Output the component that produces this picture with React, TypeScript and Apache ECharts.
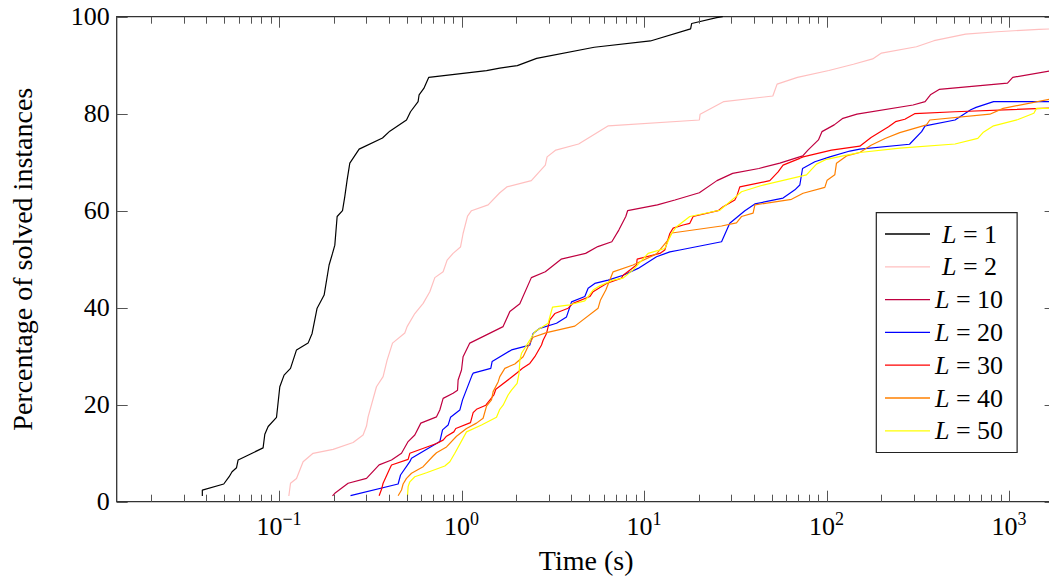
import React, { useEffect, useRef } from "react";
import * as echarts from "echarts";

const FONT = "Liberation Serif";

const seriesNames = ["L=1", "L=2", "L=10", "L=20", "L=30", "L=40", "L=50"];
const seriesColors = ["#000000", "#ffbfbf", "#bf0040", "#0000ff", "#ff0000", "#ff8000", "#ffff00"];

const l1Time = [0.038, 0.038, 0.0498, 0.0533, 0.0553, 0.0585, 0.0597, 0.0818, 0.0836, 0.0872, 0.0969, 0.101, 0.1066, 0.1156, 0.1247, 0.1443, 0.1518, 0.1617, 0.1767, 0.1881, 0.1964, 0.2022, 0.2082, 0.2228, 0.2293, 0.2361, 0.2443, 0.2748, 0.369, 0.4046, 0.4995, 0.5254, 0.5782, 0.5856, 0.6215, 0.6617, 1.371, 1.62, 2.022, 2.58, 5.34, 10.84, 18.0, 18.25, 25.0, 27];
const l1Pct = [1.2, 2.4, 3.65, 5.15, 6.19, 7.01, 8.6, 11.1, 13.9, 15.5, 17.4, 23.7, 26.1, 27.5, 31.3, 32.7, 34.7, 39.9, 42.6, 48.8, 51.2, 52.9, 58.8, 60.0, 62.9, 66.3, 69.8, 72.7, 75.0, 76.4, 78.7, 80.4, 82.5, 83.9, 85.2, 87.5, 88.9, 89.4, 89.9, 91.4, 93.7, 95.0, 97.5, 98.6, 99.8, 100];

const l2Time = [0.1132, 0.1156, 0.1247, 0.1355, 0.1537, 0.1979, 0.2547, 0.2889, 0.3016, 0.3077, 0.342, 0.3718, 0.3911, 0.4187, 0.489, 0.5034, 0.5547, 0.6163, 0.6703, 0.7142, 0.7929, 0.834, 0.899, 0.987, 1.02, 1.079, 1.134, 1.399, 1.621, 1.771, 2.413, 2.879, 2.944, 3.287, 4.382, 6.375, 20.1, 20.3, 27.4, 50.8, 53.6, 69.3, 103, 140.4, 179, 200, 311, 388, 578, 859, 1459, 1800];
const l2Pct = [1.18, 3.8, 4.8, 8.25, 9.98, 10.8, 12.2, 13.75, 15.6, 17.5, 23.7, 25.8, 29.2, 32.7, 34.8, 36.1, 38.8, 40.9, 43.3, 46.2, 47.4, 49.8, 51.2, 52.5, 55.3, 58.9, 60.0, 61.2, 63.7, 64.9, 66.2, 69.4, 71.1, 72.5, 73.75, 77.5, 78.7, 79.9, 82.5, 83.65, 86.1, 87.5, 88.9, 90.2, 91.3, 92.5, 93.8, 95.05, 96.4, 96.9, 97.4, 97.5];

const l10Time = [0.1964, 0.2022, 0.2391, 0.3016, 0.3536, 0.4135, 0.469, 0.5098, 0.5547, 0.5984, 0.7295, 0.7605, 0.7929, 0.899, 0.951, 0.958, 1.0, 1.02, 1.11, 1.69, 1.84, 2.087, 2.413, 2.879, 3.514, 4.786, 5.582, 6.662, 7.277, 7.946, 8.13, 11.84, 14.77, 20.1, 25.1, 30.6, 42.6, 55.5, 74.1, 79.1, 90.3, 94.4, 110.2, 123, 146.8, 298, 347, 371, 414, 981, 1048, 1800];
const l10Pct = [1.18, 1.73, 3.8, 4.8, 7.6, 8.6, 10.0, 12.4, 13.75, 16.2, 17.5, 18.9, 21.3, 22.35, 23.0, 25.1, 27.15, 29.9, 32.7, 36.1, 39.2, 40.8, 46.2, 47.4, 50.0, 51.2, 52.6, 53.6, 56.0, 58.8, 60.0, 61.2, 62.2, 63.7, 66.2, 67.7, 68.7, 69.8, 71.3, 72.5, 74.6, 76.3, 77.7, 79.05, 79.9, 81.8, 82.5, 83.9, 85.0, 86.3, 87.5, 89.0];

const l20Time = [0.2465, 0.4495, 0.4633, 0.5209, 0.532, 0.7605, 0.787, 0.8444, 0.8704, 0.9788, 1.013, 1.143, 1.158, 1.447, 1.471, 1.879, 2.367, 2.468, 2.686, 3.316, 3.761, 4.007, 4.739, 4.94, 5.375, 6.358, 7.683, 9.284, 11.71, 13.85, 15.71, 26.6, 29.5, 35.7, 40.5, 57.8, 67.1, 71.4, 73.9, 86.3, 104.3, 134.2, 152.2, 285, 332, 347, 506, 617, 660, 823, 1800];
const l20Pct = [1.24, 3.65, 5.5, 8.25, 8.95, 12.4, 14.8, 15.8, 17.4, 18.9, 21.0, 26.1, 26.5, 27.5, 28.9, 31.3, 32.3, 34.7, 35.75, 36.8, 38.1, 41.2, 42.3, 44.0, 45.0, 45.7, 46.7, 48.1, 50.5, 51.5, 51.9, 53.6, 57.4, 60.0, 61.4, 62.6, 64.3, 65.3, 68.7, 70.1, 71.1, 72.3, 72.7, 73.7, 76.3, 77.5, 78.7, 80.8, 81.3, 82.5, 82.5];

const l30Time = [0.3536, 0.3645, 0.3718, 0.4012, 0.4135, 0.5098, 0.5209, 0.7295, 0.7929, 0.8276, 0.9075, 0.9306, 1.12, 1.158, 1.208, 1.359, 1.503, 1.542, 1.84, 2.002, 2.159, 2.367, 2.521, 2.744, 2.8, 2.923, 3.047, 3.246, 3.838, 4.088, 5.047, 5.262, 6.232, 7.53, 7.683, 9.097, 9.167, 12.21, 13.0, 13.85, 14.44, 16.38, 17.82, 18.58, 25.47, 27.13, 31.45, 32.37, 33.49, 48.9, 54.3, 57.8, 71.4, 74.4, 106.5, 152.2, 175.4, 218.7, 238.8, 268.6, 304, 506, 1800];
const l30Pct = [1.24, 2.56, 3.8, 6.54, 7.57, 8.74, 9.98, 12.0, 12.7, 13.5, 14.4, 15.1, 16.3, 18.35, 19.05, 19.9, 22.0, 23.2, 25.4, 26.5, 27.5, 28.5, 29.9, 32.3, 33.3, 34.7, 37.5, 38.8, 39.9, 40.9, 42.3, 43.3, 45.0, 46.1, 46.7, 48.8, 50.0, 51.2, 51.9, 55.3, 56.4, 57.05, 57.4, 58.8, 60.0, 60.8, 62.2, 63.2, 64.9, 66.2, 68.0, 69.4, 70.8, 71.1, 72.5, 73.3, 75.1, 77.3, 78.35, 78.85, 80.0, 80.4, 81.2];

const l40Time = [0.4495, 0.469, 0.4786, 0.4995, 0.532, 0.6163, 0.6988, 0.7295, 0.8276, 0.9389, 1.065, 1.208, 1.313, 1.371, 1.46, 1.49, 1.587, 1.621, 1.727, 1.96, 2.176, 2.308, 2.468, 2.923, 4.177, 5.604, 5.776, 6.175, 6.77, 8.713, 11.71, 13.55, 14.21, 26.6, 32.1, 34.2, 39.6, 40.5, 64.3, 74.4, 97.9, 100.8, 111, 113.4, 128.7, 152.2, 175.4, 209.2, 252, 353, 368, 785, 929, 1800];
const l40Pct = [1.24, 2.41, 3.65, 4.82, 5.86, 7.22, 9.42, 10.1, 11.3, 13.5, 15.1, 16.2, 17.2, 19.7, 21.0, 22.7, 24.7, 25.8, 27.5, 28.4, 29.9, 31.9, 33.9, 34.85, 36.2, 39.9, 41.6, 43.65, 47.4, 48.8, 51.1, 54.0, 55.4, 56.85, 57.5, 58.8, 59.5, 61.2, 62.35, 63.6, 64.8, 66.3, 67.4, 69.8, 71.3, 72.0, 73.5, 74.9, 76.1, 77.7, 78.7, 79.9, 81.1, 83.2];

const l50Time = [0.506, 0.5098, 0.5209, 0.5547, 0.6429, 0.81, 0.863, 0.919, 1.065, 1.287, 1.555, 1.621, 1.69, 1.8, 1.879, 2.017, 2.068, 2.087, 2.132, 2.367, 2.521, 2.983, 3.152, 3.921, 4.739, 5.262, 5.725, 6.77, 7.683, 8.713, 10.53, 13.0, 14.15, 15.07, 17.82, 26.0, 32.1, 34.2, 43.1, 77.7, 88.1, 100, 123.3, 152.2, 252, 506, 674.5, 720, 823, 1120, 1368, 1415, 1800];
const l50Pct = [1.24, 3.1, 4.1, 5.15, 5.98, 7.36, 8.25, 9.98, 14.4, 15.8, 17.4, 19.05, 19.9, 22.0, 23.0, 24.4, 26.5, 29.2, 30.6, 33.3, 35.05, 36.8, 40.1, 40.6, 41.4, 43.65, 44.5, 45.7, 46.1, 47.8, 51.2, 52.2, 55.3, 56.7, 58.8, 60.1, 63.0, 63.9, 65.1, 67.4, 69.6, 70.6, 71.3, 72.0, 72.9, 73.75, 74.9, 76.1, 77.5, 78.8, 80.1, 81.1, 81.1];

const seriesTimes = [l1Time, l2Time, l10Time, l20Time, l30Time, l40Time, l50Time];
const seriesPcts = [l1Pct, l2Pct, l10Pct, l20Pct, l30Pct, l40Pct, l50Pct];

const xMin = 0.0129;
const xMax = 1800;
const majorXTicks = [0.1, 1, 10, 100, 1000];
const majorXExponents = ["\u22121", "0", "1", "2", "3"];
const minorXTicks = [
  0.02, 0.03, 0.04, 0.05, 0.06, 0.07, 0.08, 0.09,
  0.2, 0.3, 0.4, 0.5, 0.6, 0.7, 0.8, 0.9,
  2, 3, 4, 5, 6, 7, 8, 9,
  20, 30, 40, 50, 60, 70, 80, 90,
  200, 300, 400, 500, 600, 700, 800, 900,
];
const yTicks = [0, 20, 40, 60, 80, 100];

const TICK_COLOR = "#555";

export default function App() {
  const ref = useRef<HTMLDivElement>(null);

  useEffect(() => {
    if (!ref.current) return;
    const chart = echarts.init(ref.current, undefined, { renderer: "svg" });

    const lineSeries = seriesNames.map((name, i) => ({
      name,
      type: "line",
      data: seriesTimes[i].map((t, j) => [t, seriesPcts[i][j]]),
      symbol: "none",
      showSymbol: false,
      smooth: false,
      color: seriesColors[i],
      lineStyle: { color: seriesColors[i], width: 1.2 },
      itemStyle: { color: seriesColors[i] },
      z: 3,
      silent: true,
    }));

    const xTickData = [
      ...majorXTicks.map((v) => [v, 1]),
      ...minorXTicks.map((v) => [v, 0]),
    ];

    const option: any = {
      animation: false,
      backgroundColor: "#ffffff",
      textStyle: { fontFamily: FONT },
      grid: {
        left: 116.7,
        top: 16.7,
        height: 485,
        width: 938.9,
        show: true,
        borderColor: "#333",
        borderWidth: 1.3,
        backgroundColor: "transparent",
      },
      xAxis: {
        type: "log",
        logBase: 10,
        min: xMin,
        max: xMax,
        splitNumber: 5,
        name: "Time (s)",
        nameLocation: "middle",
        nameGap: 45,
        nameTextStyle: { fontFamily: FONT, fontSize: 28, color: "#000" },
        axisLine: { show: false },
        axisTick: { show: false },
        splitLine: { show: false },
        minorTick: { show: false },
        axisLabel: {
          showMinLabel: false,
          showMaxLabel: false,
          margin: 8,
          color: "#000",
          fontFamily: FONT,
          formatter: (v: number) => {
            const lg = Math.log10(v);
            const e = Math.round(lg);
            if (Math.abs(lg - e) > 1e-6) return "";
            const idx = majorXTicks.findIndex((m) => Math.abs(Math.log10(m) - e) < 1e-6);
            if (idx < 0) return "";
            return `{b|10}{s|${majorXExponents[idx]}}`;
          },
          rich: {
            b: { fontFamily: FONT, fontSize: 26, lineHeight: 30, verticalAlign: "bottom", color: "#000" },
            s: { fontFamily: FONT, fontSize: 18, lineHeight: 20, verticalAlign: "top", color: "#000" },
          },
        },
      },
      yAxis: {
        type: "value",
        min: 0,
        max: 100,
        interval: 20,
        name: "Percentage of solved instances",
        nameLocation: "middle",
        nameGap: 80,
        nameRotate: 90,
        nameTextStyle: { fontFamily: FONT, fontSize: 28, color: "#000" },
        axisLine: { show: false },
        axisTick: { show: false },
        splitLine: { show: false },
        axisLabel: {
          margin: 7,
          fontFamily: FONT,
          fontSize: 26,
          color: "#000",
        },
      },
      legend: {
        data: seriesNames,
        orient: "vertical",
        left: 876.3,
        top: 212.7,
        icon: "rect",
        itemWidth: 45,
        itemHeight: 1.3,
        itemGap: 6.8,
        padding: [8.3, 14, 8.7, 8.7],
        borderColor: "#222",
        borderWidth: 1.2,
        backgroundColor: "#ffffff",
        selectedMode: false,
        textStyle: {
          fontFamily: FONT,
          fontSize: 26,
          color: "#000",
          lineHeight: 26,
          rich: {
            i: { fontFamily: FONT, fontSize: 26, fontStyle: "italic", color: "#000", lineHeight: 26 },
            n: { fontFamily: FONT, fontSize: 26, color: "#000", lineHeight: 26 },
            p: { fontFamily: FONT, fontSize: 26, width: 7, lineHeight: 26 },
          },
        },
        formatter: (name: string) => {
          const n = name.split("=")[1];
          const pad = n.length === 1 ? "{p| }" : "";
          return `${pad}{i|L}{n| = ${n}}`;
        },
        z: 10,
      },
      series: [
        ...lineSeries,
        {
          type: "custom",
          name: "xticks",
          silent: true,
          clip: false,
          z: 5,
          data: xTickData,
          renderItem: (params: any, api: any) => {
            const v = api.value(0);
            const major = api.value(1) === 1;
            const p = api.coord([v, 0]);
            const cs = params.coordSys;
            const top = cs.y;
            const bottom = cs.y + cs.height;
            const len = major ? 11 : 7;
            const x = Math.round(p[0]) + 0.5;
            return {
              type: "group",
              children: [
                { type: "line", shape: { x1: x, y1: bottom, x2: x, y2: bottom - len }, style: { stroke: TICK_COLOR, lineWidth: 1 } },
                { type: "line", shape: { x1: x, y1: top, x2: x, y2: top + len }, style: { stroke: TICK_COLOR, lineWidth: 1 } },
              ],
            };
          },
        },
        {
          type: "custom",
          name: "yticks",
          silent: true,
          clip: false,
          z: 5,
          data: yTicks.map((v) => [xMin, v]),
          renderItem: (params: any, api: any) => {
            const p = api.coord([xMin, api.value(1)]);
            const cs = params.coordSys;
            const left = cs.x;
            const right = cs.x + cs.width;
            const y = Math.round(p[1]) + 0.5;
            return {
              type: "group",
              children: [
                { type: "line", shape: { x1: left, y1: y, x2: left + 11, y2: y }, style: { stroke: TICK_COLOR, lineWidth: 1 } },
                { type: "line", shape: { x1: right, y1: y, x2: right - 11, y2: y }, style: { stroke: TICK_COLOR, lineWidth: 1 } },
              ],
            };
          },
        },
      ],
    };

    chart.setOption(option);
    return () => chart.dispose();
  }, []);

  return (
    <div style={{ position: "fixed", left: 0, top: 0, width: 1049, height: 582, overflow: "hidden", background: "#fff" }}>
      <div ref={ref} style={{ width: 1060, height: 582 }} />
    </div>
  );
}
